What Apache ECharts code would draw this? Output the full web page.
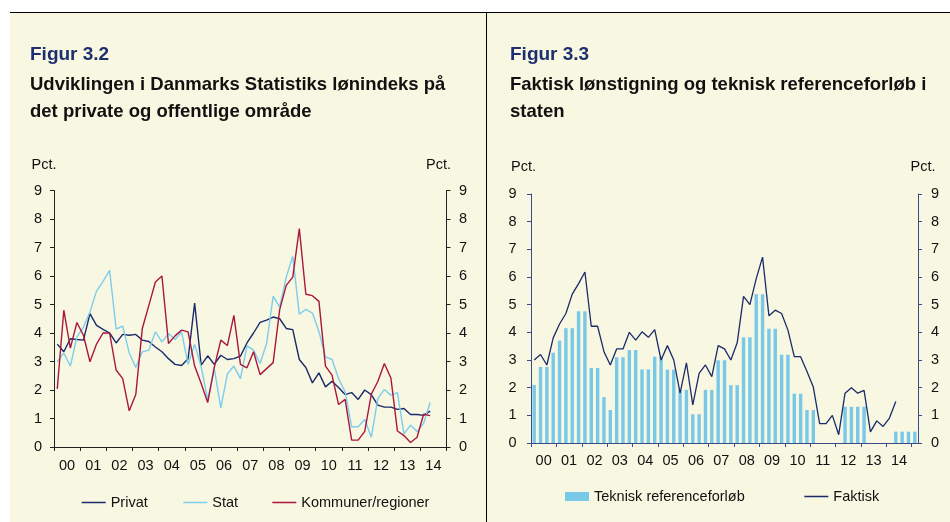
<!DOCTYPE html>
<html>
<head>
<meta charset="utf-8">
<script src="https://cdn.jsdelivr.net/npm/echarts@6/dist/echarts.min.js"></script>
<style>
    html, body { margin: 0; padding: 0; background: #ffffff; }
    #main { width: 950px; height: 522px; }
</style>
</head>
<body>
<div id="main"></div>
<script>
    // Year tick labels (both figures)
    var years = ['00', '01', '02', '03', '04', '05', '06', '07', '08', '09', '10', '11', '12', '13', '14'];

    // Figur 3.2 - quarterly wage growth, 2000K1 - 2014K2 (pct.)
    var privat = [3.61, 3.34, 3.8, 3.77, 3.75, 4.68, 4.27, 4.13, 4.0, 3.65,
        3.95, 3.92, 3.95, 3.75, 3.7, 3.51, 3.34, 3.1, 2.9, 2.86,
        3.1, 5.05, 2.87, 3.2, 2.9, 3.22, 3.07, 3.1, 3.19, 3.65,
        4.0, 4.37, 4.45, 4.56, 4.5, 4.16, 4.12, 3.07, 2.79, 2.25,
        2.6, 2.11, 2.31, 2.09, 1.84, 1.91, 1.67, 2.0, 1.84, 1.47,
        1.4, 1.4, 1.32, 1.35, 1.14, 1.14, 1.11, 1.26];
    var stat = [2.99, 3.3, 2.84, 3.86, 4.21, 4.74, 5.47, 5.81, 6.2, 4.14,
        4.24, 3.3, 2.79, 3.34, 3.4, 4.04, 3.69, 3.98, 3.77, 4.04,
        2.9, 3.6, 2.81, 1.67, 2.75, 1.37, 2.56, 2.84, 2.4, 3.55,
        3.4, 2.93, 3.63, 5.29, 4.91, 5.96, 6.69, 4.66, 4.83, 4.7,
        4.05, 3.16, 3.07, 2.4, 1.94, 0.71, 0.71, 0.97, 0.34, 1.7,
        2.02, 1.82, 1.91, 0.46, 0.77, 0.54, 0.83, 1.56];
    var kommuner = [2.04, 4.8, 3.47, 4.37, 3.92, 2.99, 3.61, 4.0, 4.0, 2.7,
        2.4, 1.27, 1.84, 4.16, 4.97, 5.79, 6.0, 3.63, 3.9, 4.1,
        4.04, 2.84, 2.23, 1.56, 2.79, 3.75, 3.56, 4.62, 2.9, 2.78,
        3.34, 2.54, 2.75, 2.96, 4.82, 5.67, 5.96, 7.66, 5.36, 5.31,
        5.11, 2.84, 2.52, 1.49, 1.67, 0.24, 0.24, 0.55, 1.85, 2.3,
        2.93, 2.42, 0.56, 0.4, 0.16, 0.34, 1.15, 1.1];

    // Figur 3.3 - technical reference path (bars) and actual wage growth in the state
    var teknisk = [2.1, 2.75, 2.75, 3.26, 3.7, 4.15, 4.15, 4.76, 4.76, 2.71,
        2.71, 1.66, 1.19, 3.1, 3.1, 3.36, 3.36, 2.66, 2.66, 3.12,
        3.12, 2.65, 2.65, 1.92, 1.92, 1.04, 1.04, 1.92, 1.92, 2.99,
        2.99, 2.09, 2.09, 3.82, 3.82, 5.38, 5.38, 4.13, 4.13, 3.19,
        3.19, 1.78, 1.78, 1.19, 1.19, null, null, null, null, 1.31,
        1.31, 1.31, 1.31, null, null, null, null, 0.41, 0.41, 0.41,
        0.41];
    var faktisk = [3.0, 3.2, 2.82, 3.8, 4.3, 4.68, 5.38, 5.76, 6.18, 4.22,
        4.22, 3.3, 2.82, 3.4, 3.4, 4.0, 3.72, 4.02, 3.82, 4.1,
        3.0, 3.52, 3.0, 1.8, 2.9, 1.38, 2.52, 2.82, 2.4, 3.52,
        3.4, 3.0, 3.62, 5.3, 5.0, 5.94, 6.72, 4.6, 4.8, 4.68,
        4.08, 3.12, 3.12, 2.58, 2.02, 0.7, 0.7, 1.0, 0.3, 1.8,
        2.0, 1.8, 1.9, 0.4, 0.8, 0.6, 0.9, 1.5];

    // quarter categories
    var quarters = [];
    years.forEach(function (y) {
        for (var q = 1; q <= 4; q++) quarters.push(y + 'K' + q);
    });
    var quartersRight = quarters.concat(['15K1']);

    var font = '"Liberation Sans", Arial, sans-serif';
    var cream = '#f8f7e1';
    var navy = '#1b2a6b';
    var lightBlue = '#7ccdee';
    var crimson = '#a8173f';
    var barBlue = '#78c8e8';
    var axisNavy = '#3b4a88';
    var txt = '#111111';

    function yAx(grid, pos, color, margin, name, namePad, nameGap) {
        return {
            gridIndex: grid,
            type: 'value',
            position: pos,
            min: 0,
            max: 9,
            interval: 1,
            name: name,
            nameLocation: 'end',
            nameGap: nameGap,
            nameTextStyle: { color: txt, fontSize: 14.5, fontFamily: font, padding: namePad },
            axisLine: { show: true, lineStyle: { color: color, width: 1 } },
            axisTick: { show: true, length: 4, lineStyle: { color: color } },
            axisLabel: { margin: margin, color: txt, fontSize: 14.5, fontFamily: font },
            splitLine: { show: false }
        };
    }

    function quarterAx(grid, data, color) {
        return {
            gridIndex: grid,
            type: 'category',
            data: data,
            boundaryGap: true,
            axisLine: { lineStyle: { color: color, width: 1 } },
            axisTick: { show: false },
            axisLabel: { show: false }
        };
    }

    function yearAx(grid, color, margin) {
        return {
            gridIndex: grid,
            type: 'category',
            data: years,
            position: 'bottom',
            boundaryGap: true,
            axisLine: { show: false },
            axisTick: { show: true, length: 4, interval: 0, lineStyle: { color: color } },
            axisLabel: { interval: 0, margin: margin, color: txt, fontSize: 14.5, fontFamily: font }
        };
    }

    // one legend entry per component so each sits where the reference has it
    function legendItem(name, left, top, h) {
        return {
            data: [{ name: name, icon: 'rect' }],
            left: left, top: top, padding: 0,
            itemWidth: 24, itemHeight: h,
            textStyle: { color: txt, fontSize: 14.5, fontFamily: font }
        };
    }

    var chart = echarts.init(document.getElementById('main'));
    var option = {
        animation: false,
        textStyle: { fontFamily: font },
        graphic: [
            { type: 'rect', z: -10, shape: { x: 10, y: 12, width: 940, height: 510 }, style: { fill: cream } },
            { type: 'line', z: 10, shape: { x1: 10, y1: 12.5, x2: 950, y2: 12.5 }, style: { stroke: '#000', lineWidth: 1 } },
            { type: 'line', z: 10, shape: { x1: 486.5, y1: 12, x2: 486.5, y2: 522 }, style: { stroke: '#000', lineWidth: 1 } }
        ],
        title: [
            { text: 'Figur 3.2', left: 30, top: 43.5, padding: 0,
              textStyle: { color: '#1f2f6e', fontSize: 19, fontWeight: 'bold', lineHeight: 22, fontFamily: font } },
            { text: 'Udviklingen i Danmarks Statistiks lønindeks på\ndet private og offentlige område', left: 30, top: 72, padding: 0,
              textStyle: { color: txt, fontSize: 18.5, fontWeight: 'bold', lineHeight: 26.5, fontFamily: font } },
            { text: 'Figur 3.3', left: 510, top: 43.5, padding: 0,
              textStyle: { color: '#1f2f6e', fontSize: 19, fontWeight: 'bold', lineHeight: 22, fontFamily: font } },
            { text: 'Faktisk lønstigning og teknisk referenceforløb i\nstaten', left: 510, top: 72, padding: 0,
              textStyle: { color: txt, fontSize: 18.5, fontWeight: 'bold', lineHeight: 26.5, fontFamily: font } }
        ],
        legend: [
            legendItem('Privat', 81.7, 495, 1.5),
            legendItem('Stat', 183.3, 495, 1.5),
            legendItem('Kommuner/regioner', 272.3, 495, 1.5),
            legendItem('Teknisk referenceforløb', 565, 489, 9),
            legendItem('Faktisk', 804.3, 489, 1.5)
        ],
        grid: [
            { left: 54, top: 190.5, width: 392.5, height: 256.5 },
            { left: 531, top: 194, width: 387, height: 249 },
            { left: 531, top: 194, width: 387 * 60 / 61, height: 249 }
        ],
        xAxis: [
            quarterAx(0, quarters, '#222'),
            yearAx(0, '#222', 11),
            quarterAx(1, quartersRight, axisNavy),
            yearAx(2, axisNavy, 10)
        ],
        yAxis: [
            yAx(0, 'left', '#222', 12, 'Pct.', [0, 20, 0, 0], 18),
            yAx(0, 'right', '#222', 12.5, 'Pct.', [0, 16, 0, 0], 18),
            yAx(1, 'left', axisNavy, 14.5, 'Pct.', [0, 15, 0, 0], 20),
            yAx(1, 'right', axisNavy, 13, 'Pct.', [0, 0, 0, 10], 20),
            { gridIndex: 2, type: 'value', min: 0, max: 9, show: false }
        ],
        series: [
            { name: 'Privat', type: 'line', xAxisIndex: 0, yAxisIndex: 0, data: privat,
              symbol: 'none', color: navy, lineStyle: { width: 1.4 } },
            { name: 'Stat', type: 'line', xAxisIndex: 0, yAxisIndex: 0, data: stat,
              symbol: 'none', color: lightBlue, lineStyle: { width: 1.4 } },
            { name: 'Kommuner/regioner', type: 'line', xAxisIndex: 0, yAxisIndex: 0, data: kommuner,
              symbol: 'none', color: crimson, lineStyle: { width: 1.4 } },
            { name: 'Teknisk referenceforløb', type: 'bar', xAxisIndex: 2, yAxisIndex: 2, data: teknisk,
              barWidth: 3.4, color: barBlue },
            { name: 'Faktisk', type: 'line', xAxisIndex: 2, yAxisIndex: 2, data: faktisk,
              symbol: 'none', color: navy, lineStyle: { width: 1.3 } }
        ]
    };
    chart.setOption(option);
</script>
</body>
</html>
